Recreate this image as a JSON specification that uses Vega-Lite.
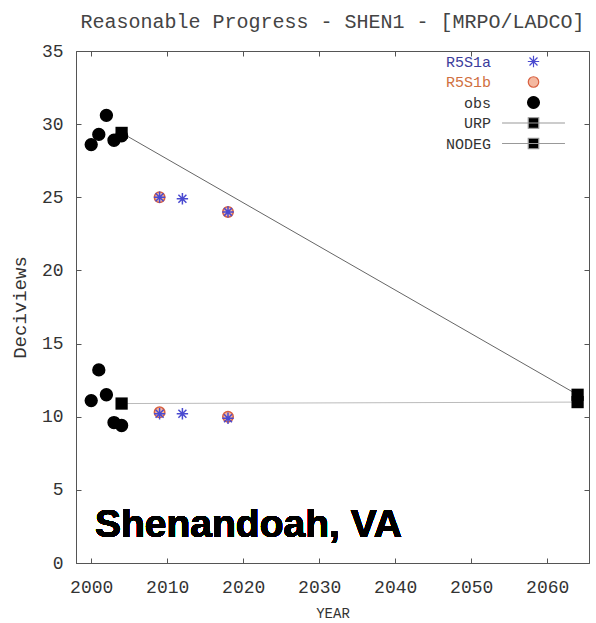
{
  "$schema": "https://vega.github.io/schema/vega-lite/v6.json",
  "width": 513,
  "height": 512,
  "autosize": {"type": "none"},
  "padding": {"left": 76, "top": 51, "right": 7, "bottom": 60},
  "background": "white",
  "title": {
    "text": "Reasonable Progress - SHEN1 - [MRPO/LADCO]",
    "font": "Liberation Mono",
    "fontSize": 20,
    "fontWeight": "normal",
    "color": "#444",
    "anchor": "middle",
    "offset": 10
  },
  "data": {
    "values": [
      {"series": "obs", "year": 2000, "value": 28.6},
      {"series": "obs", "year": 2001, "value": 29.3},
      {"series": "obs", "year": 2002, "value": 30.6},
      {"series": "obs", "year": 2003, "value": 28.9},
      {"series": "obs", "year": 2004, "value": 29.2},
      {"series": "obs", "year": 2000, "value": 11.1},
      {"series": "obs", "year": 2001, "value": 13.2},
      {"series": "obs", "year": 2002, "value": 11.5},
      {"series": "obs", "year": 2003, "value": 9.6},
      {"series": "obs", "year": 2004, "value": 9.4},
      {"series": "URP", "year": 2004, "value": 29.4},
      {"series": "URP", "year": 2064, "value": 11.5},
      {"series": "NODEG", "year": 2004, "value": 10.9},
      {"series": "NODEG", "year": 2064, "value": 11.0},
      {"series": "R5S1b", "year": 2009, "value": 25.0},
      {"series": "R5S1b", "year": 2018, "value": 24.0},
      {"series": "R5S1b", "year": 2009, "value": 10.3},
      {"series": "R5S1b", "year": 2018, "value": 10.0},
      {"series": "R5S1a", "year": 2009, "value": 25.0},
      {"series": "R5S1a", "year": 2012, "value": 24.9},
      {"series": "R5S1a", "year": 2018, "value": 24.0},
      {"series": "R5S1a", "year": 2009, "value": 10.2},
      {"series": "R5S1a", "year": 2012, "value": 10.2},
      {"series": "R5S1a", "year": 2018, "value": 9.9}
    ]
  },
  "resolve": {"axis": {"x": "independent", "y": "independent"}},
  "layer": [
    {
      "transform": [{"filter": "datum.series === 'URP'"}],
      "mark": {"type": "line", "color": "#666", "strokeWidth": 1},
      "encoding": {
        "x": {
          "field": "year", "type": "quantitative",
          "scale": {"domain": [1998, 2065.5], "nice": false, "zero": false},
          "axis": {"orient": "bottom", "values": [2000, 2010, 2020, 2030, 2040, 2050, 2060], "format": "d", "title": "YEAR", "tickSize": -5, "labelPadding": 20, "titlePadding": 10, "titleFontSize": 14}
        },
        "y": {
          "field": "value", "type": "quantitative",
          "scale": {"domain": [0, 35], "nice": false},
          "axis": {"orient": "left", "values": [0, 5, 10, 15, 20, 25, 30, 35], "title": "Deciviews", "tickSize": -5, "labelPadding": 18, "titlePadding": 12, "titleFontSize": 19}
        }
      }
    },
    {
      "transform": [{"filter": "datum.series === 'NODEG'"}],
      "mark": {"type": "line", "color": "#bbb", "strokeWidth": 1},
      "encoding": {
        "x": {
          "field": "year", "type": "quantitative",
          "axis": {"orient": "top", "values": [2000, 2010, 2020, 2030, 2040, 2050, 2060], "labels": false, "title": null, "domain": false, "tickSize": -5}
        },
        "y": {
          "field": "value", "type": "quantitative",
          "axis": {"orient": "right", "values": [0, 5, 10, 15, 20, 25, 30, 35], "labels": false, "title": null, "domain": false, "tickSize": -5}
        }
      }
    },
    {
      "transform": [{"filter": "datum.series !== 'URP' && datum.series !== 'NODEG'"}],
      "mark": {"type": "point", "strokeWidth": 1.5, "opacity": 1},
      "encoding": {
        "x": {"field": "year", "type": "quantitative", "axis": null},
        "y": {"field": "value", "type": "quantitative", "axis": null},
        "shape": {
          "field": "series", "type": "nominal",
          "scale": {
            "domain": ["R5S1a", "R5S1b", "obs", "URP", "NODEG"],
            "range": ["M-1,0H1M0,-1V1M-0.7,-0.7L0.7,0.7M-0.7,0.7L0.7,-0.7", "circle", "circle", "M-6,0H6M-1,-1H1V1H-1Z", "M-6,0H6M-1,-1H1V1H-1Z"]
          },
          "legend": {
            "orient": "none", "legendX": 450, "legendY": 3, "title": null, "direction": "vertical",
            "labelAlign": "right", "labelOffset": -50, "labelFont": "Liberation Mono", "labelFontSize": 15,
            "labelColor": {"expr": "datum.value === 'R5S1a' ? '#3c3c9c' : datum.value === 'R5S1b' ? '#d07040' : '#333'"},
            "symbolSize": 100, "rowPadding": 3.5, "padding": 0, "symbolStrokeWidth": 1.2
          }
        },
        "fill": {
          "field": "series", "type": "nominal",
          "scale": {"domain": ["R5S1a", "R5S1b", "obs", "URP", "NODEG"], "range": ["transparent", "#f4b8a0", "black", "black", "black"]}
        },
        "stroke": {
          "field": "series", "type": "nominal",
          "scale": {"domain": ["R5S1a", "R5S1b", "obs", "URP", "NODEG"], "range": ["#4a4ad0", "#d86040", "black", "#999", "#999"]}
        },
        "size": {
          "field": "series", "type": "nominal",
          "scale": {"type": "ordinal", "domain": ["R5S1a", "R5S1b", "obs", "URP", "NODEG"], "range": [130, 110, 140, 110, 110]}
        }
      }
    },
    {
      "transform": [{"filter": "datum.series === 'URP' || datum.series === 'NODEG'"}],
      "mark": {"type": "point", "shape": "square", "filled": true, "color": "black", "size": 150, "opacity": 1},
      "encoding": {
        "x": {"field": "year", "type": "quantitative", "axis": null},
        "y": {"field": "value", "type": "quantitative", "axis": null}
      }
    },
    {
      "mark": {"type": "text", "text": "Shenandoah, VA", "font": "Liberation Sans", "fontWeight": "bold", "fontSize": 39, "align": "left", "baseline": "alphabetic", "color": "black"},
      "encoding": {
        "x": {"datum": 2000.5, "type": "quantitative", "axis": null},
        "y": {"datum": 1.78, "type": "quantitative", "axis": null}
      }
    }
  ],
  "config": {
    "view": {"stroke": "#555"},
    "axis": {
      "grid": false,
      "domainColor": "#555",
      "tickColor": "#555",
      "labelFont": "Liberation Mono",
      "labelFontSize": 18,
      "labelColor": "#333",
      "titleFont": "Liberation Mono",
      "titleFontSize": 14,
      "titleFontWeight": "normal",
      "titleColor": "#333"
    }
  }
}
